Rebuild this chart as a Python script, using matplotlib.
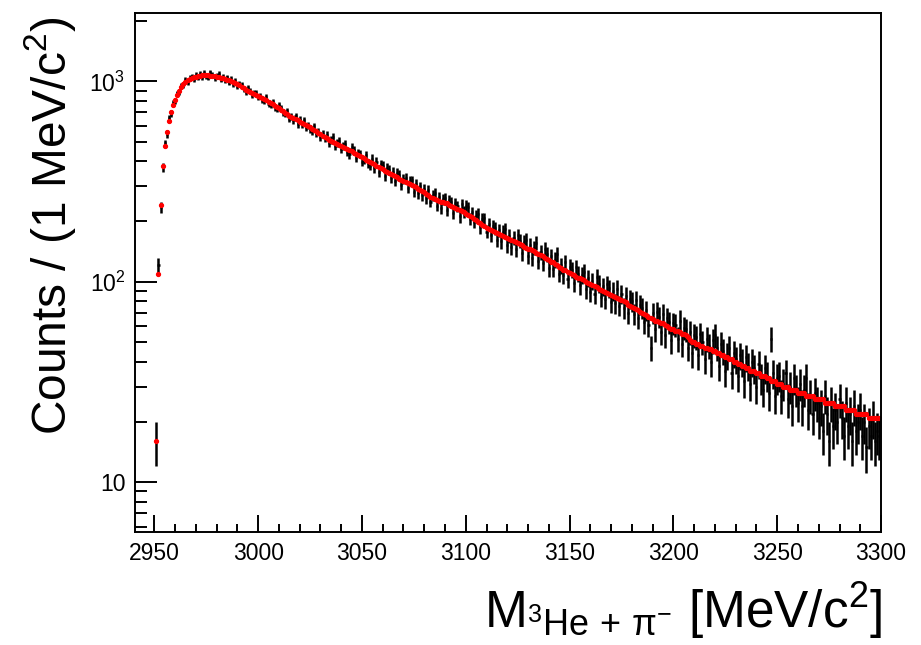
import numpy as np
import matplotlib
matplotlib.use("Agg")
import matplotlib.pyplot as plt
from matplotlib.ticker import FixedLocator, FixedFormatter, MultipleLocator

# bin centres: 1 MeV bins from 2951 to 3299
x_first, x_last = 2951, 3299

# red points (model) per bin
red = [
    16, 110, 241, 378, 474, 559, 632, 700, 758, 808,
    852, 898, 936, 970, 992, 1010, 1026, 1040, 1046, 1055,
    1060, 1064, 1070, 1072, 1071, 1073, 1068, 1066, 1060, 1056,
    1051, 1044, 1036, 1030, 1020, 1012, 1002, 993, 982, 968,
    954, 942, 928, 910, 898, 884, 874, 862, 854, 845,
    836, 826, 815, 804, 792, 780, 768, 757, 746, 735,
    722, 710, 696, 684, 670, 662, 654, 646, 638, 630,
    622, 614, 606, 598, 590, 581, 572, 563, 554, 545,
    536, 527, 520, 512, 505, 498, 492, 486, 480, 475,
    469, 463, 458, 452, 447, 441, 436, 430, 425, 419,
    413, 407, 402, 396, 390, 385, 380, 374, 369, 364,
    359, 354, 350, 346, 342, 337, 332, 327, 323, 319,
    315, 311, 307, 303, 300, 297, 292, 288, 284, 279,
    274, 270, 266, 262, 259, 256, 253, 251, 249, 247,
    246, 243, 240, 237, 234, 231, 228, 225, 222, 219,
    216, 213, 210, 206, 203, 199, 196, 192, 189, 186,
    183, 181, 179, 177, 175, 173, 171, 169, 167, 165,
    163, 161, 159, 158, 156, 154, 152, 150, 148, 146,
    145, 144, 142, 140, 138, 136, 134, 132, 130, 128,
    126, 125, 123, 121, 119, 117, 115, 114, 112, 111,
    109, 108, 106, 105, 104, 103, 102, 100, 99, 97,
    96, 95, 94, 92, 91, 90, 89, 88, 87, 86,
    85, 84, 83, 82, 81, 80, 79, 77, 76, 75,
    74, 73, 72, 71, 70, 69, 68, 67, 66, 65,
    64, 64, 63, 62, 62, 61, 60, 59, 58, 58,
    57, 57, 56, 55, 55, 54, 53, 51, 50, 50,
    49, 49, 48, 48, 47, 47, 46, 46, 45, 45,
    44, 44, 43, 43, 42, 42, 41, 41, 40, 40,
    39, 39, 38, 38, 37, 37, 36, 36, 36, 35,
    35, 34, 34, 34, 33, 33, 32, 32, 32, 31,
    31, 31, 30, 30, 30, 29, 29, 29, 29, 28,
    28, 28, 28, 27, 27, 27, 27, 26, 26, 26,
    26, 26, 25, 25, 25, 25, 25, 24, 24, 24,
    24, 24, 23, 23, 23, 23, 23, 22, 22, 22,
    22, 22, 22, 21, 21, 21, 21, 21, 21,
]

# black points (data counts) per bin
counts = [
    16, 121, 236, 372, 490, 548, 655, 690, 781, 795,
    870, 884, 951, 962, 1018, 987, 1040, 1061, 1022, 1079,
    1043, 1090, 1052, 1101, 1065, 1045, 1112, 1078, 1034, 1069,
    1088, 1021, 1057, 1009, 1048, 985, 1031, 968, 1003, 951,
    978, 960, 912, 884, 925, 897, 851, 880, 876, 832,
    850, 811, 803, 835, 771, 760, 790, 741, 733, 759,
    735, 702, 688, 712, 651, 668, 640, 671, 612, 645,
    610, 638, 591, 604, 579, 565, 598, 551, 562, 528,
    548, 519, 541, 490, 511, 530, 474, 495, 503, 461,
    478, 488, 445, 433, 470, 452, 416, 441, 436, 398,
    405, 430, 391, 380, 412, 369, 398, 352, 385, 379,
    337, 371, 362, 329, 355, 318, 349, 341, 305, 327,
    330, 294, 318, 321, 282, 309, 276, 299, 270, 291,
    262, 288, 251, 270, 277, 240, 265, 233, 259, 262,
    229, 255, 250, 221, 246, 238, 212, 244, 223, 240,
    236, 206, 222, 199, 213, 218, 187, 205, 207, 178,
    195, 171, 190, 185, 162, 181, 159, 178, 183, 152,
    170, 149, 166, 145, 171, 160, 139, 158, 162, 134,
    153, 132, 148, 156, 127, 141, 124, 146, 138, 117,
    134, 116, 129, 137, 110, 121, 108, 125, 103, 119,
    115, 99, 118, 110, 96, 108, 112, 92, 104, 89,
    101, 87, 106, 98, 84, 95, 82, 97, 93, 79,
    90, 78, 92, 76, 87, 74, 85, 70, 82, 80,
    69, 81, 66, 77, 74, 63, 72, 61, 47, 70,
    58, 71, 67, 56, 69, 54, 66, 63, 51, 62,
    61, 52, 64, 49, 59, 58, 47, 56, 44, 54,
    53, 43, 55, 50, 41, 52, 48, 40, 51, 54,
    47, 38, 49, 45, 36, 43, 47, 35, 44, 41,
    34, 43, 40, 32, 42, 38, 31, 40, 37, 30,
    39, 33, 29, 37, 34, 28, 52, 35, 27, 33,
    34, 27, 31, 35, 26, 30, 24, 33, 29, 25,
    31, 24, 29, 33, 23, 27, 22, 28, 25, 21,
    24, 18, 27, 22, 16, 25, 19, 23, 20, 26,
    21, 17, 25, 19, 22, 16, 24, 18, 20, 23,
    17, 20, 15, 19, 17, 21, 16, 18, 17,
]

x_ticks = [2950, 3000, 3050, 3100, 3150, 3200, 3250, 3300]
y_ticks = [10, 100, 1000]
y_tick_labels = ['10', r'$10^{2}$', r'$10^{3}$']

plt.rcParams['font.family'] = ['Liberation Sans']
plt.rcParams['mathtext.fontset'] = 'custom'
plt.rcParams['mathtext.rm'] = 'Liberation Sans'
plt.rcParams['mathtext.it'] = 'Liberation Sans:italic'
plt.rcParams['mathtext.bf'] = 'Liberation Sans:bold'

x = np.arange(x_first, x_last + 1)
counts = np.array(counts, dtype=float)
red = np.array(red, dtype=float)

fig = plt.figure(figsize=(9.21, 6.45), dpi=100)
ax = fig.add_axes([0.1466, 0.1752, 0.8100, 0.8051])

# data with sqrt(N) errors, model points on top
ax.errorbar(x, counts, yerr=np.sqrt(counts), xerr=0.5, fmt='none',
            ecolor='black', elinewidth=1.8, capsize=0)
ax.errorbar(x, red, xerr=0.5, fmt='o', ms=2.8, color='red', mec='red',
            elinewidth=1.5, capsize=0)

ax.set_yscale('log')
ax.set_xlim(2940.7, 3300)
ax.set_ylim(5.65, 2200)

ax.xaxis.set_major_locator(FixedLocator(x_ticks))
ax.xaxis.set_minor_locator(MultipleLocator(10))
ax.yaxis.set_major_locator(FixedLocator(y_ticks))
ax.yaxis.set_major_formatter(FixedFormatter(y_tick_labels))
minors = [m * 10.0 ** e for e in range(0, 4) for m in range(2, 10)]
ax.yaxis.set_minor_locator(FixedLocator(minors))
ax.yaxis.set_minor_formatter(FixedFormatter([''] * len(minors)))

ax.tick_params(axis='both', which='both', direction='in', top=False, right=False, width=1.4)
ax.tick_params(axis='x', which='major', length=12, pad=7)
ax.tick_params(axis='x', which='minor', length=6)
ax.tick_params(axis='y', which='major', length=16, pad=7)
ax.tick_params(axis='y', which='minor', length=8.5)
for lab in ax.get_xticklabels() + ax.get_yticklabels():
    lab.set_fontsize(16.5)
for sp in ax.spines.values():
    sp.set_linewidth(1.4)

fig.text(50 / 921, 1 - 16 / 645, r'Counts / (1 MeV/c$^{2}$)', rotation=90,
         ha='center', va='top', fontsize=34.5)
fig.text(882 / 921, 1 - 628 / 645,
         r'M$_{^{3}\mathrm{He}\,+\,\mathrm{\pi}^{-}}$ [MeV/c$^{2}$]',
         ha='right', va='baseline', fontsize=37)

fig.savefig('out.png', dpi=100)
